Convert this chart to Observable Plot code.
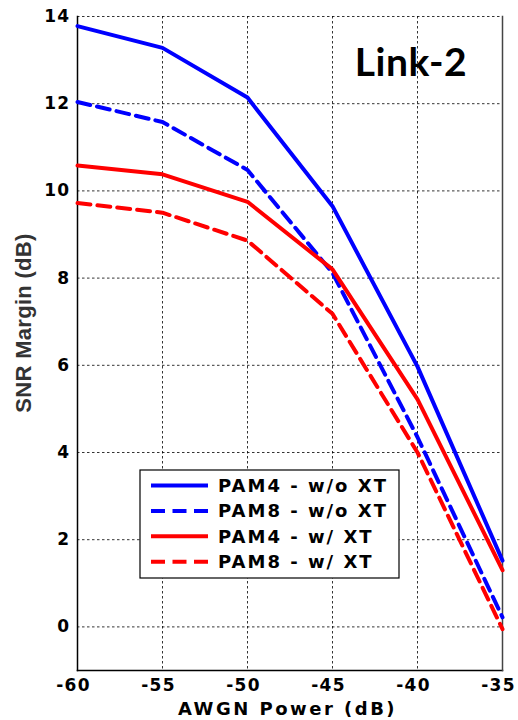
<!DOCTYPE html>
<html>
<head>
<meta charset="utf-8">
<script src="https://cdn.jsdelivr.net/npm/d3@7"></script>
<script src="https://cdn.jsdelivr.net/npm/@observablehq/plot@0.6"></script>
<style>
  html, body { margin: 0; padding: 0; background: #fff; }
  svg { display: block; }
</style>
</head>
<body>
<div id="chart"></div>
<script>
// ---- data ----
const awgnPower = [-60, -55, -50, -45, -40, -35];
const pam4NoXT = [13.78, 13.28, 12.14, 9.65, 5.97, 1.52];
const pam8NoXT = [12.04, 11.58, 10.48, 8.12, 4.35, 0.22];
const pam4XT   = [10.58, 10.38, 9.75, 8.20, 5.22, 1.30];
const pam8XT   = [9.72, 9.50, 8.86, 7.18, 4.00, -0.05];

const seriesNames  = ["PAM4 - w/o XT", "PAM8 - w/o XT", "PAM4 - w/ XT", "PAM8 - w/ XT"];
const seriesValues = [pam4NoXT, pam8NoXT, pam4XT, pam8XT];
const seriesColors = ["#0000ff", "#0000ff", "#ff0000", "#ff0000"];
const seriesDashes = [null, "13,7", null, "13,7"];

const xTicks = [-60, -55, -50, -45, -40, -35];
const yTicks = [0, 2, 4, 6, 8, 10, 12, 14];
const titleText = "Link-2";
const xLabel = "AWGN Power (dB)";
const yLabel = "SNR Margin (dB)";

// ---- build ----
const lineMarks = seriesValues.map((vals, i) =>
  Plot.line(awgnPower.map((x, j) => ({x, y: vals[j]})), {
    x: "x", y: "y",
    stroke: seriesColors[i],
    strokeWidth: 4,
    strokeDasharray: seriesDashes[i] || undefined,
    strokeLinejoin: "round"
  })
);

const plot = Plot.plot({
  width: 518,
  height: 720,
  marginLeft: 77,
  marginRight: 16,
  marginTop: 16,
  marginBottom: 50,
  style: {fontFamily: "DejaVu Sans", fontWeight: "bold", fontSize: "17px", color: "#000", background: "#fff", letterSpacing: "1.3px"},
  x: {domain: [-60, -35], label: null},
  y: {domain: [-1, 14], label: null},
  marks: [
    Plot.ruleX(xTicks.slice(1, -1), {stroke: "#000", strokeOpacity: 0.8, strokeDasharray: "2.5,2.5", strokeWidth: 1}),
    Plot.ruleY(yTicks, {stroke: "#000", strokeOpacity: 0.8, strokeDasharray: "2.5,2.5", strokeWidth: 1}),
    Plot.axisX({ticks: xTicks, tickSize: 0, tickPadding: 8, tickFormat: d => String(d), label: null, dx: -4}),
    Plot.axisY({ticks: yTicks, tickSize: 0, tickPadding: 7, tickFormat: d => String(d), label: null}),
    Plot.frame({anchor: "left", stroke: "#000", strokeWidth: 1.5}),
    Plot.frame({anchor: "bottom", stroke: "#000", strokeWidth: 1.5}),
    Plot.frame({anchor: "right", stroke: "#444", strokeWidth: 1.5}),
    ...lineMarks
  ]
});

document.getElementById("chart").appendChild(plot);

const svg = d3.select(plot);
const [x0, x1] = plot.scale("x").range;
const [yb, yt] = plot.scale("y").range;

// Title inside plot
svg.append("text")
  .attr("x", 411).attr("y", 76)
  .attr("text-anchor", "middle")
  .style("font-family", "Lato, 'Open Sans', sans-serif")
  .style("font-weight", "bold")
  .style("font-size", "39px")
  .style("letter-spacing", "0.5px")
  .attr("fill", "#000")
  .text(titleText);

// X axis label
svg.append("text")
  .attr("x", (x0 + x1) / 2 - 2).attr("y", 715)
  .attr("text-anchor", "middle")
  .style("font-family", "DejaVu Sans")
  .style("font-weight", "bold")
  .style("font-size", "18px")
  .style("letter-spacing", "2.5px")
  .attr("fill", "#000")
  .text(xLabel);

// Y axis label
svg.append("text")
  .attr("transform", `translate(23, ${(yb + yt) / 2 - 20}) rotate(-90)`)
  .attr("text-anchor", "middle")
  .attr("dominant-baseline", "central")
  .style("font-family", "'Liberation Sans', Arial, sans-serif")
  .style("font-weight", "bold")
  .style("font-size", "22px")
  .style("letter-spacing", "0.3px")
  .attr("fill", "#333")
  .text(yLabel);

// Legend
const lg = svg.append("g");
lg.append("rect")
  .attr("x", 140).attr("y", 470).attr("width", 259).attr("height", 108)
  .attr("fill", "#fff").attr("stroke", "#000").attr("stroke-width", 1.2);
seriesNames.forEach((name, i) => {
  const cy = 485.5 + i * 25.4;
  lg.append("line")
    .attr("x1", 151).attr("x2", 208).attr("y1", cy).attr("y2", cy)
    .attr("stroke", seriesColors[i]).attr("stroke-width", 4)
    .attr("stroke-dasharray", seriesDashes[i] ? "14,7.5" : null);
  lg.append("text")
    .attr("x", 218).attr("y", cy)
    .attr("text-anchor", "start")
    .attr("dominant-baseline", "central")
    .style("font-family", "DejaVu Sans")
    .style("font-weight", "bold")
    .style("font-size", "18px")
    .style("letter-spacing", "2px")
    .attr("fill", "#000")
    .text(name);
});
</script>
</body>
</html>
